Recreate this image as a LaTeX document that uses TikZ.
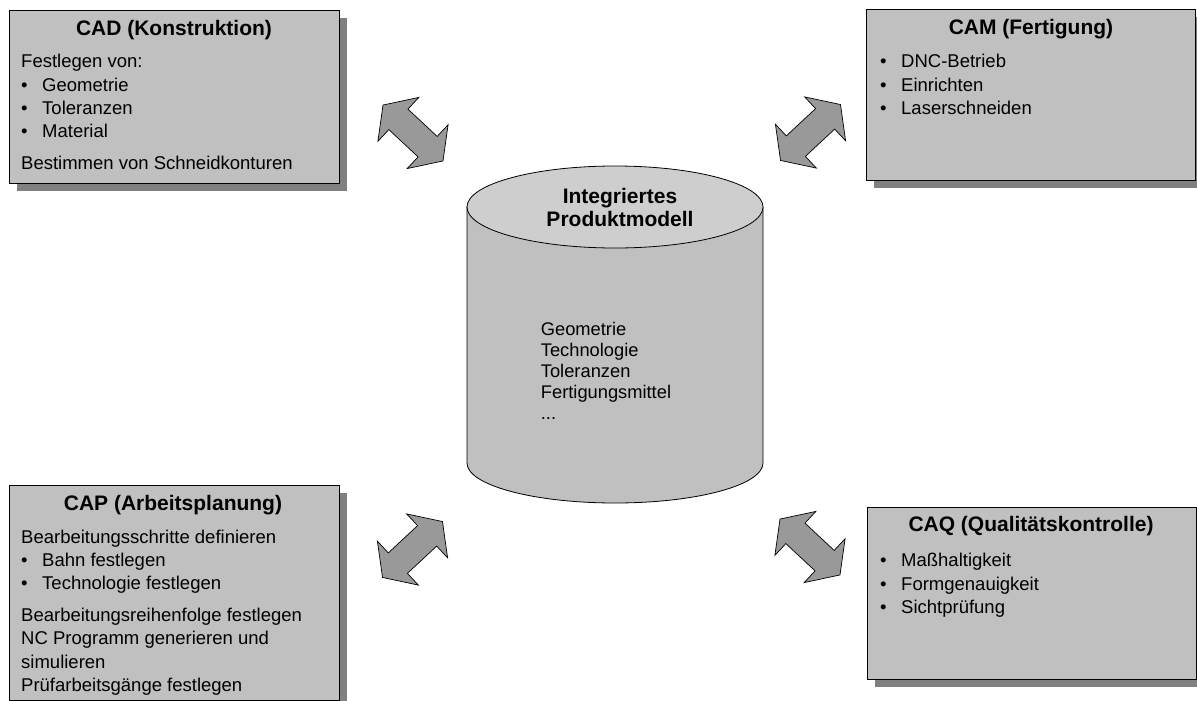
\documentclass[tikz,border=0pt]{standalone}
\usepackage{fontspec}
\setmainfont{Liberation Sans}
\usetikzlibrary{shadows}

\definecolor{panelgray}{RGB}{192,192,192}
\definecolor{shadowgray}{RGB}{128,128,128}
\definecolor{arrowgray}{RGB}{153,153,153}
\definecolor{capgray}{RGB}{206,206,206}

\newcommand{\itemdot}{\makebox[21pt][l]{\textbullet}}
\newcommand{\bodyfont}{\fontsize{18.5pt}{23.3pt}\selectfont}
\newcommand{\headfont}{\fontsize{21pt}{23.4pt}\selectfont\bfseries}

\tikzset{
  panel/.style={draw=black, line width=0.8pt, fill=panelgray, anchor=north west,
    inner sep=0pt,
    drop shadow={shadow xshift=8pt, shadow yshift=-8pt, fill=shadowgray, opacity=1}},
  paneltitle/.style={anchor=base, inner sep=0pt, font=\headfont},
  paneltext/.style={anchor=base west, inner sep=0pt, font=\bodyfont},
  linkarrow/.style={draw=black, line width=0.7pt, fill=arrowgray, line join=miter},
  dblarrow/.pic={
    \draw[linkarrow] (41pt,0pt) -- (20pt,30pt) -- (20pt,14pt) -- (-20pt,14pt)
      -- (-20pt,30pt) -- (-41pt,0pt) -- (-20pt,-30pt) -- (-20pt,-14pt)
      -- (20pt,-14pt) -- (20pt,-30pt) -- cycle;
  },
}

\begin{document}
\begin{tikzpicture}[x=1pt, y=-1pt]
  \useasboundingbox (0,0) rectangle (1197,701);

  % --- four application panels ---
  \node[panel, minimum width=330pt, minimum height=173pt] (cad) at (9,10) {};
  \node[paneltitle] (cadtitle) at (174,36) {CAD (Konstruktion)};
  \node[paneltext] (cadtext) at (21,68) {\parbox[t]{310pt}{\raggedright
    Festlegen von:\\
    \itemdot Geometrie\\
    \itemdot Toleranzen\\
    \itemdot Material\\[8.7pt]
    Bestimmen von Schneidkonturen}};

  \node[panel, minimum width=329pt, minimum height=171pt] (cam) at (866,9) {};
  \node[paneltitle] (camtitle) at (1031,34.5) {CAM (Fertigung)};
  \node[paneltext] (camtext) at (880,68) {\parbox[t]{300pt}{\raggedright
    \itemdot DNC-Betrieb\\
    \itemdot Einrichten\\
    \itemdot Laserschneiden}};

  \node[panel, minimum width=330pt, minimum height=215pt] (cap) at (9,485) {};
  \node[paneltitle] (captitle) at (173,510) {CAP (Arbeitsplanung)};
  \node[paneltext] (captext) at (21,543.3) {\parbox[t]{310pt}{\raggedright
    Bearbeitungsschritte definieren\\
    \itemdot Bahn festlegen\\
    \itemdot Technologie festlegen\\[8.4pt]
    Bearbeitungsreihenfolge festlegen\\
    NC Programm generieren und\\
    simulieren\\
    Prüfarbeitsgänge festlegen}};

  \node[panel, minimum width=329pt, minimum height=172pt] (caq) at (867,507) {};
  \node[paneltitle] (caqtitle) at (1031,531.7) {CAQ (Qualitätskontrolle)};
  \node[paneltext] (caqtext) at (880,566.7) {\parbox[t]{300pt}{\raggedright
    \itemdot Maßhaltigkeit\\
    \itemdot Formgenauigkeit\\
    \itemdot Sichtprüfung}};

  % --- central product model (cylinder) ---
  \draw[fill=panelgray, line width=0.8pt] (467,207) -- (467,463)
    arc[start angle=180, end angle=360, x radius=148pt, y radius=40pt]
    -- (763,207) -- cycle;
  \draw[fill=capgray, line width=0.8pt] (615,207) ellipse [x radius=148pt, y radius=41pt];
  \node[anchor=base, inner sep=0pt, font=\headfont] (dbtitle) at (620,203.3)
    {\parbox[t]{250pt}{\centering Integriertes\\Produktmodell}};
  \node[anchor=base west, inner sep=0pt, font=\fontsize{18.3pt}{21pt}\selectfont] (dbitems)
    at (540.7,335) {\parbox[t]{160pt}{\raggedright
    Geometrie\\Technologie\\Toleranzen\\Fertigungsmittel\\...}};

  % --- exchange arrows between panels and the model ---
  \pic[rotate=-43] (cadlink) at (413,133) {dblarrow};
  \pic[rotate=43] (camlink) at (810.5,132.5) {dblarrow};
  \pic[rotate=43] (caplink) at (412.5,549.5) {dblarrow};
  \pic[rotate=-43] (caqlink) at (810,547) {dblarrow};
\end{tikzpicture}
\end{document}
